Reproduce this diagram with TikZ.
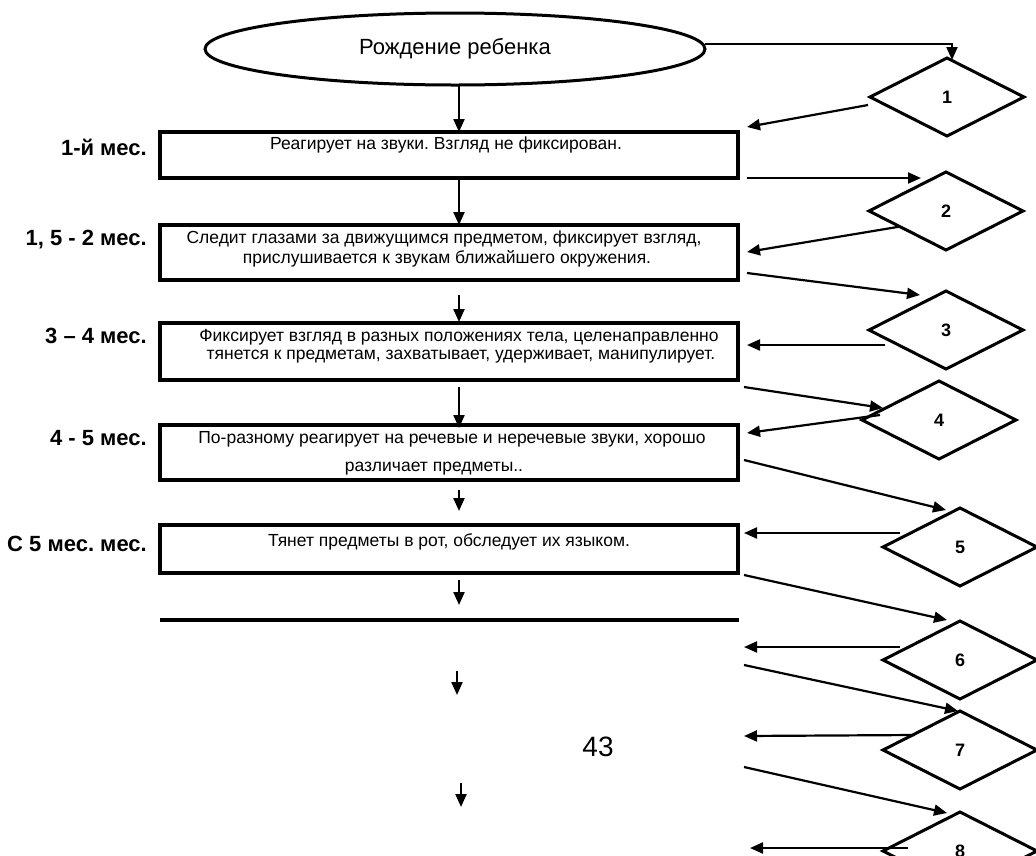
\documentclass[tikz,border=0pt]{standalone}
\usepackage{fontspec}
\setmainfont{Liberation Sans}
\frenchspacing
\usetikzlibrary{shapes.geometric,arrows.meta,calc}
\begin{document}
\begin{tikzpicture}[x=1pt,y=-1pt,
  box/.style={draw,line width=3.8pt,rectangle,minimum width=578pt,inner sep=0pt,outer sep=0pt},
  txt/.style={font=\fontsize{17.5}{20}\selectfont,inner sep=0pt,anchor=base},
  age/.style={font=\fontsize{22}{26}\selectfont\bfseries,inner sep=0pt,anchor=base east},
  dia/.style={draw,diamond,line width=3pt,minimum width=154pt,minimum height=78pt,inner sep=0pt,outer sep=0pt,font=\fontsize{18}{21}\selectfont\bfseries},
  conn/.style={line width=2.2pt,-{Triangle[length=13pt,width=11pt]}},
]
\useasboundingbox (0,0) rectangle (1036,855);
\clip (0,0) rectangle (1036,855);

% start
\node[draw,ellipse,line width=3pt,minimum width=500pt,minimum height=72pt,inner sep=0pt,outer sep=0pt,
      font=\fontsize{22}{26}\selectfont] (ell) at (455,49) {Рождение ребенка};

% stage boxes
\node[box,minimum height=46pt] (b1) at (449,155) {};
\node[box,minimum height=55pt] (b2) at (449,252.5) {};
\node[box,minimum height=57pt] (b3) at (449,351.5) {};
\node[box,minimum height=55pt] (b4) at (449,452.5) {};
\node[box,minimum height=48pt] (b5) at (449,549) {};

\node[txt] (t1) at (446,149) {Реагирует на звуки. Взгляд не фиксирован.};
\node[txt] (t2a) at (444,243) {Следит глазами за движущимся предметом, фиксирует взгляд,};
\node[txt] (t2b) at (447,263) {прислушивается к звукам ближайшего окружения.};
\node[txt] (t3a) at (459,341) {Фиксирует взгляд в разных положениях тела, целенаправленно};
\node[txt] (t3b) at (461,359) {тянется к предметам, захватывает, удерживает, манипулирует.};
\node[txt] (t4a) at (452,443) {По-разному реагирует на речевые и неречевые звуки, хорошо};
\node[txt] (t4b) at (434,471) {различает предметы..};
\node[txt] (t5) at (449,546) {Тянет предметы в рот, обследует их языком.};

% age labels
\node[age] (a1) at (147,155) {1-й мес.};
\node[age] (a2) at (147,245) {1, 5 - 2 мес.};
\node[age] (a3) at (147,343) {3 – 4 мес.};
\node[age] (a4) at (147,445) {4 - 5 мес.};
\node[age] (a5) at (147,551) {С 5 мес. мес.};

% separator line
\coordinate (hl1) at (160,620);
\coordinate (hl2) at (739,620);
\draw[line width=3.8pt] (hl1) -- (hl2);

% page number
\node[font=\fontsize{28}{32}\selectfont,inner sep=0pt] (pg) at (598,747) {43};

% decision diamonds
\node[dia] (d1) at (947,97) {1};
\node[dia] (d2) at (946,211) {2};
\node[dia] (d3) at (946,330) {3};
\node[dia] (d4) at (939,420) {4};
\node[dia] (d5) at (960,547) {5};
\node[dia] (d6) at (960,660) {6};
\node[dia] (d7) at (960,750) {7};
\node[dia] (d8) at (960,851) {8};

% main column arrows
\coordinate (col) at (459,0);
\draw[conn] (ell.south -| col) -- (b1.north -| col);
\draw[conn] ($(b1.south -| col)+(0,2)$) -- (b2.north -| col);
\draw[conn] ($(b2.south -| col)+(0,15)$) -- ($(b3.north -| col)+(0,-1)$);
\draw[conn] ($(b3.south -| col)+(0,7)$) -- ($(b4.north -| col)+(0,3)$);
\draw[conn] ($(b4.south -| col)+(0,10)$) -- ($(b5.north -| col)+(0,-14)$);
\draw[conn] ($(b5.south -| col)+(0,7)$) -- ($(hl1 -| col)+(0,-15)$);
\coordinate (v7a) at (457,671);
\coordinate (v7b) at (457,695);
\coordinate (v8a) at (461,783);
\coordinate (v8b) at (461,807);
\draw[conn] (v7a) -- (v7b);
\draw[conn] (v8a) -- (v8b);

% side links
\draw[conn] ($(ell.east)+(0,-5)$) -| ($(d1.north)+(5,2)$);
\draw[conn] ($(d1.west)+(-2,8)$) -- ($(b1.north east)+(9,-5)$);
\draw[conn] ($(b1.south east)+(9,0)$) -- ($(d2.north)+(-25,6)$);
\draw[conn] ($(d2.west)!0.4!(d2.south)$) -- ($(b2.north east)+(9,27)$);
\draw[conn] ($(b2.south east)+(9,-7)$) -- ($(d3.north)+(-26,4)$);
\draw[conn] ($(d3.west)+(16,15)$) -- ($(b3.north east)+(9,22)$);
\draw[conn] ($(b3.south east)+(6,7)$) -- ($(d4.west)+(21,-12)$);
\draw[conn] ($(d4.west)+(18,-5)$) -- ($(b4.north east)+(9,8)$);
\draw[conn] ($(b4.south east)+(6,-20)$) -- ($(d5.north)+(-14,2)$);
\draw[conn] ($(d5.west)+(17,-14)$) -- ($(b5.north east)+(6,8)$);
\draw[conn] ($(b5.south east)+(6,2)$) -- ($(d6.north)+(-13,-1)$);
\coordinate (f6) at (744,647);
\coordinate (g6) at (744,665);
\coordinate (f7) at (744,736);
\coordinate (g7) at (744,767);
\coordinate (f8) at (750,848);
\draw[conn] ($(d6.west)+(17,-13)$) -- (f6);
\draw[conn] (g6) -- ($(d7.north)+(-2,0)$);
\draw[conn] ($(d7.west)+(32,-15)$) -- (f7);
\draw[conn] (g7) -- ($(d8.north)+(-13,1)$);
\draw[conn] ($(d8.west)+(25,-3)$) -- (f8);
\end{tikzpicture}
\end{document}
